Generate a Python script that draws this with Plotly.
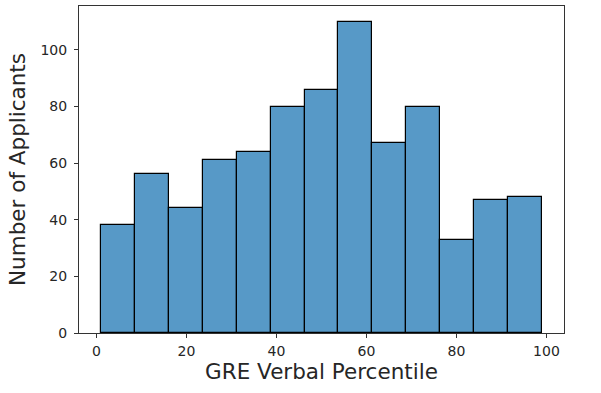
import numpy as np
import plotly.graph_objects as go

# Data
bin_start = 1
bin_end = 99
counts = [38, 56, 44, 61, 64, 80, 86, 110, 67, 80, 33, 47, 48]
x_ticks = [0, 20, 40, 60, 80, 100]
y_ticks = [0, 20, 40, 60, 80, 100]
x_title = "GRE Verbal Percentile"
y_title = "Number of Applicants"

edges = np.linspace(bin_start, bin_end, len(counts) + 1)
centers = (edges[:-1] + edges[1:]) / 2
widths = np.diff(edges)

fig = go.Figure(go.Bar(
    x=centers, y=counts, width=widths,
    marker=dict(color="rgba(31,119,180,0.75)", line=dict(color="black", width=1.2)),
))

span = bin_end - bin_start
ymax = max(counts)
font = dict(family="DejaVu Sans", color="#222")
fig.update_layout(
    width=601, height=393,
    margin=dict(l=79, r=37, t=6, b=60),
    plot_bgcolor="white", paper_bgcolor="white",
    showlegend=False, bargap=0,
    font=font,
    xaxis=dict(
        range=[bin_start - 0.05 * span, bin_end + 0.05 * span],
        tickvals=x_ticks, ticks="outside", ticklen=4, tickcolor="#333",
        tickfont=dict(size=14, family="DejaVu Sans", color="#262626"),
        ticklabelstandoff=1,
        showline=True, mirror=True, linecolor="#333", linewidth=1,
        showgrid=False, zeroline=False,
        title=dict(text=x_title, font=dict(size=21.5, family="DejaVu Sans", color="#262626"), standoff=6),
        automargin=False,
    ),
    yaxis=dict(
        range=[0, ymax * 1.05],
        tickvals=y_ticks, ticks="outside", ticklen=4, tickcolor="#333",
        tickfont=dict(size=14, family="DejaVu Sans", color="#262626"),
        ticklabelstandoff=4,
        showline=True, mirror=True, linecolor="#333", linewidth=1,
        showgrid=False, zeroline=False,
        title=dict(text=y_title, font=dict(size=21.5, family="DejaVu Sans", color="#262626"), standoff=8),
        automargin=False,
    ),
)

fig.write_html("out.html", config={"displayModeBar": False},
               post_script="document.body.style.margin='0';")
